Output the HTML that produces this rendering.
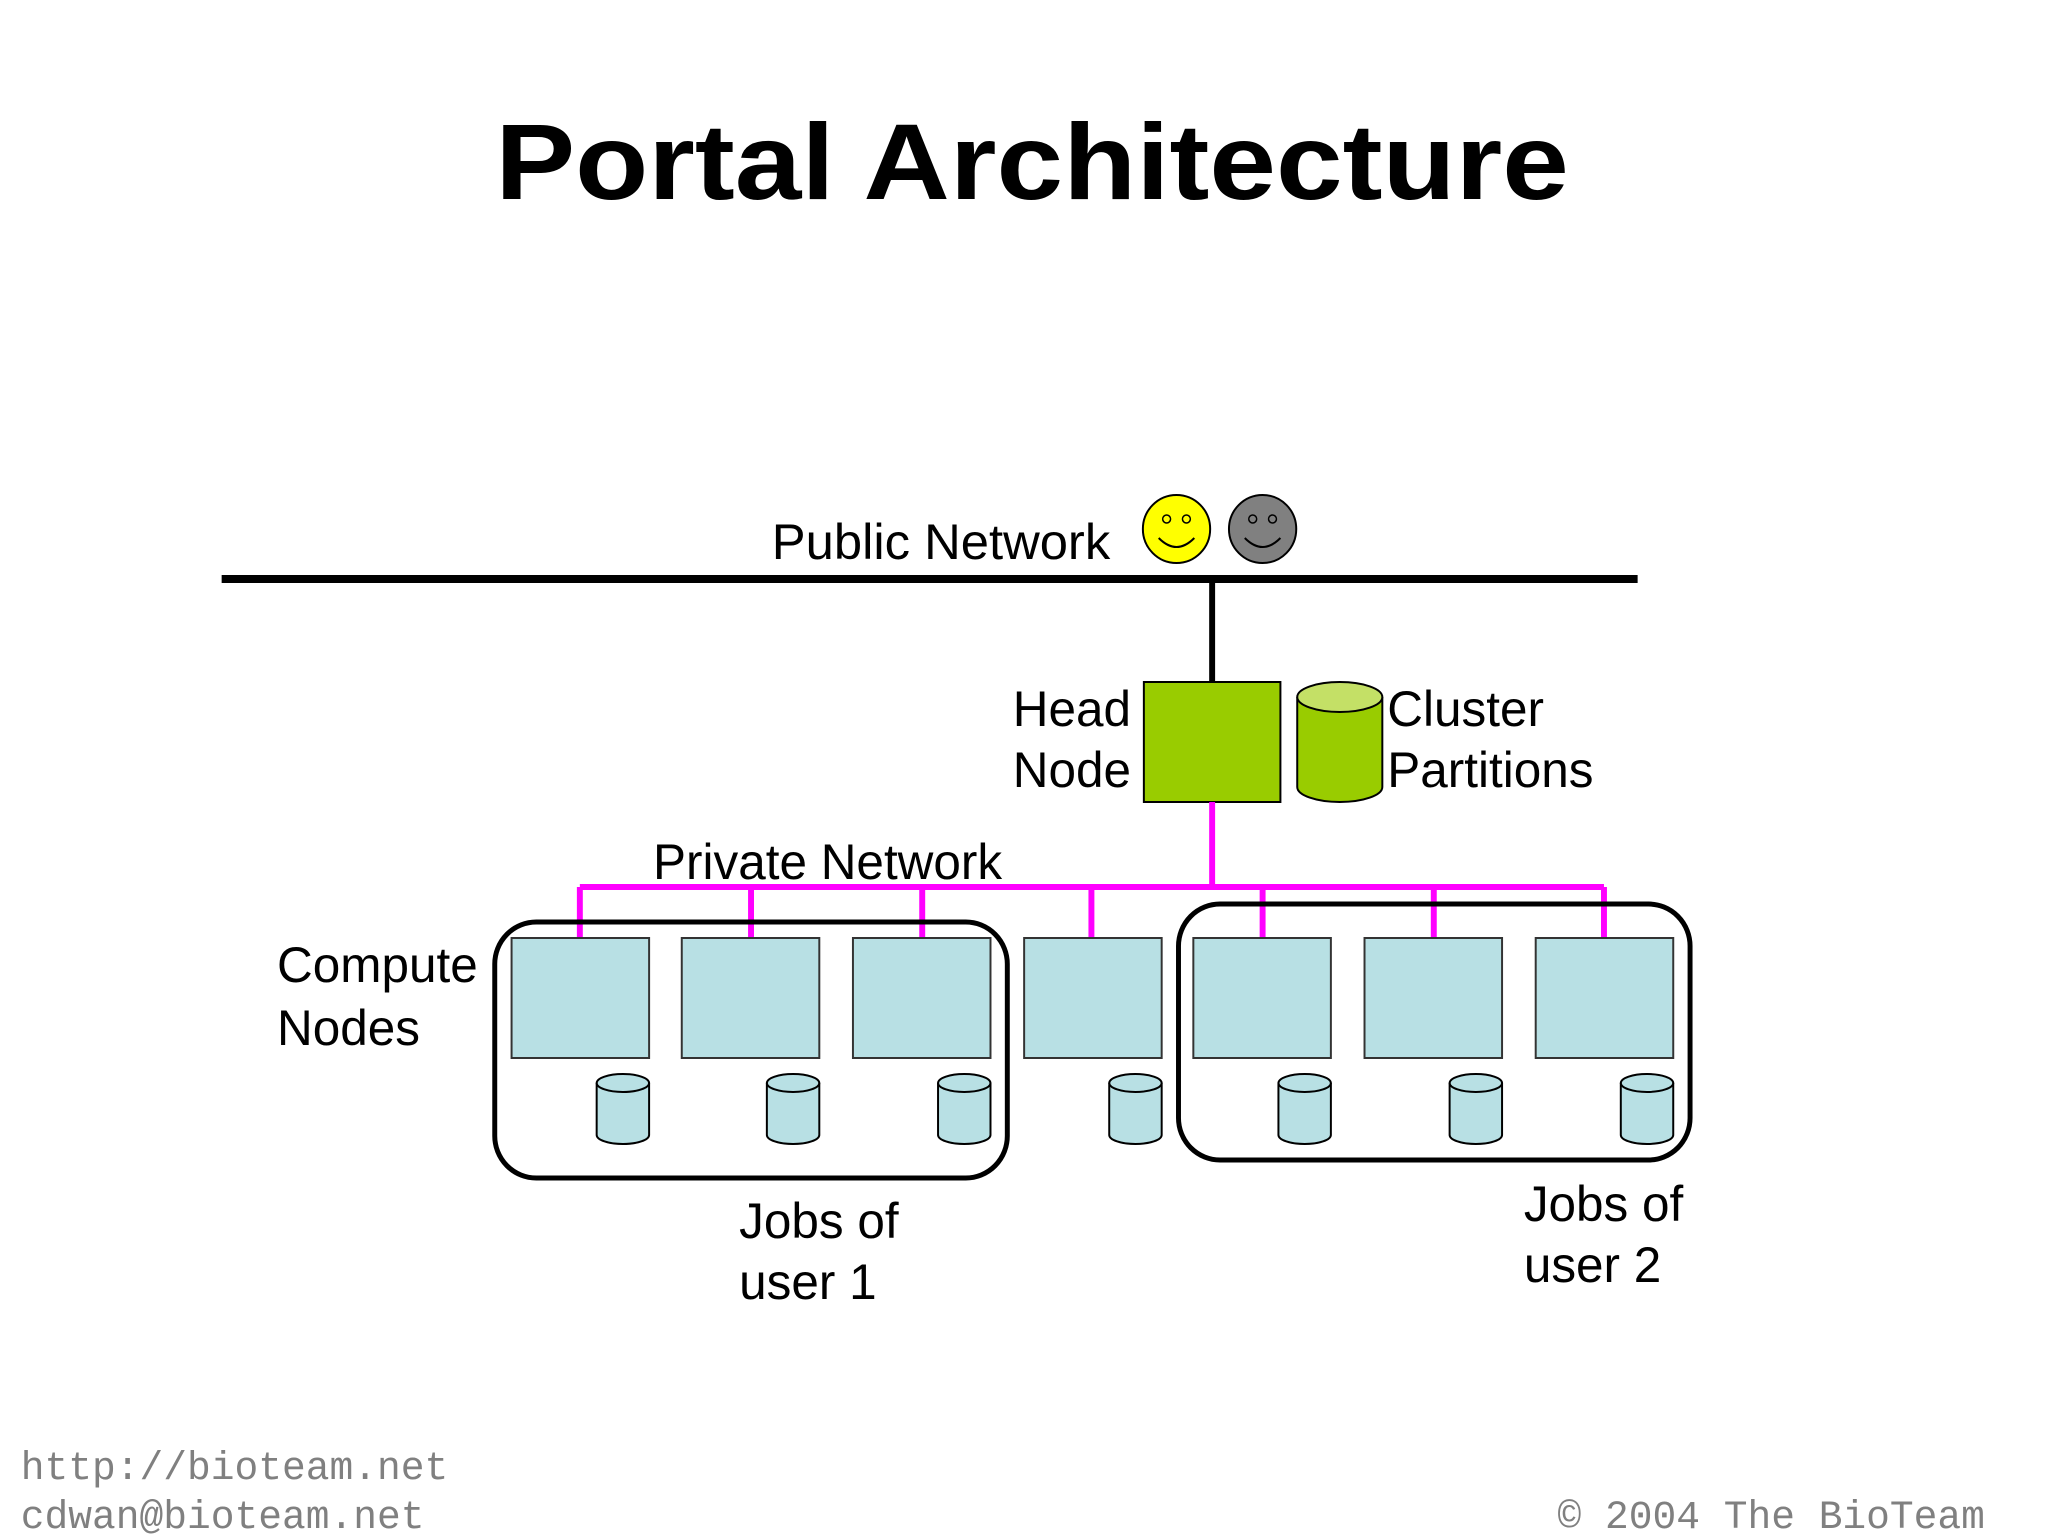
<!DOCTYPE html>
<html><head><meta charset="utf-8"><style>
html,body{margin:0;padding:0;background:#fff;}
svg{display:block;}
</style></head><body>
<svg width="2048" height="1536" viewBox="0 0 2048 1536" xmlns="http://www.w3.org/2000/svg">
<g transform="scale(0.9895,1)">
<text x="1043" y="199" text-anchor="middle" font-family="Liberation Sans, sans-serif" font-weight="bold" font-size="108" textLength="1085" lengthAdjust="spacingAndGlyphs">Portal Architecture</text>

<text x="780" y="559" font-family="Liberation Sans, sans-serif" font-size="50" textLength="342" lengthAdjust="spacingAndGlyphs">Public Network</text>
<circle cx="1189" cy="529" r="34" fill="#ffff00" stroke="#000" stroke-width="2"/>
<circle cx="1179" cy="519" r="4" fill="none" stroke="#000" stroke-width="1.5"/>
<circle cx="1199" cy="519" r="4" fill="none" stroke="#000" stroke-width="1.5"/>
<path d="M1171 538 Q1189 556 1207 538" fill="none" stroke="#000" stroke-width="2"/>
<circle cx="1276" cy="529" r="34" fill="#808080" stroke="#000" stroke-width="2"/>
<circle cx="1266" cy="519" r="4" fill="none" stroke="#000" stroke-width="1.5"/>
<circle cx="1286" cy="519" r="4" fill="none" stroke="#000" stroke-width="1.5"/>
<path d="M1258 538 Q1276 556 1294 538" fill="none" stroke="#000" stroke-width="2"/>

<line x1="224" y1="579" x2="1655" y2="579" stroke="#000" stroke-width="8"/>
<line x1="1225" y1="579" x2="1225" y2="682" stroke="#000" stroke-width="6"/>

<rect x="1156" y="682" width="138" height="120" fill="#99cc00" stroke="#000" stroke-width="2"/>
<g font-family="Liberation Sans, sans-serif" font-size="50">
<text x="1143" y="726" text-anchor="end">Head</text>
<text x="1143" y="787" text-anchor="end">Node</text>
<text x="1402" y="726">Cluster</text>
<text x="1402" y="787">Partitions</text>
</g>
<path d="M1311 697 L1311 787 A43 15 0 0 0 1397 787 L1397 697" fill="#99cc00" stroke="#000" stroke-width="2"/>
<ellipse cx="1354" cy="697" rx="43" ry="15" fill="#c4e066" stroke="#000" stroke-width="2"/>

<g stroke="#ff00ff" stroke-width="6" fill="none">
<line x1="1225" y1="802" x2="1225" y2="887"/>
<line x1="586" y1="887" x2="1621" y2="887"/>
<line x1="586" y1="887" x2="586" y2="938"/>
<line x1="759" y1="887" x2="759" y2="938"/>
<line x1="932" y1="887" x2="932" y2="938"/>
<line x1="1103" y1="887" x2="1103" y2="938"/>
<line x1="1276" y1="887" x2="1276" y2="938"/>
<line x1="1449" y1="887" x2="1449" y2="938"/>
<line x1="1621" y1="887" x2="1621" y2="938"/>
</g>
<text x="660" y="879" font-family="Liberation Sans, sans-serif" font-size="50">Private Network</text>

<rect x="500" y="922" width="518" height="256" rx="42" fill="none" stroke="#000" stroke-width="5"/>
<rect x="1191" y="904" width="517" height="256" rx="42" fill="none" stroke="#000" stroke-width="5"/>

<g fill="#b8e0e4" stroke="#333" stroke-width="2">
<rect x="517" y="938" width="139" height="120"/>
<rect x="689" y="938" width="139" height="120"/>
<rect x="862" y="938" width="139" height="120"/>
<rect x="1035" y="938" width="139" height="120"/>
<rect x="1206" y="938" width="139" height="120"/>
<rect x="1379" y="938" width="139" height="120"/>
<rect x="1552" y="938" width="139" height="120"/>
</g>
<g fill="#b8e0e4" stroke="#000" stroke-width="2">
<path d="M603 1083 L603 1135 A26.5 9 0 0 0 656 1135 L656 1083"/><ellipse cx="629.5" cy="1083" rx="26.5" ry="9"/>
<path d="M775 1083 L775 1135 A26.5 9 0 0 0 828 1135 L828 1083"/><ellipse cx="801.5" cy="1083" rx="26.5" ry="9"/>
<path d="M948 1083 L948 1135 A26.5 9 0 0 0 1001 1135 L1001 1083"/><ellipse cx="974.5" cy="1083" rx="26.5" ry="9"/>
<path d="M1121 1083 L1121 1135 A26.5 9 0 0 0 1174 1135 L1174 1083"/><ellipse cx="1147.5" cy="1083" rx="26.5" ry="9"/>
<path d="M1292 1083 L1292 1135 A26.5 9 0 0 0 1345 1135 L1345 1083"/><ellipse cx="1318.5" cy="1083" rx="26.5" ry="9"/>
<path d="M1465 1083 L1465 1135 A26.5 9 0 0 0 1518 1135 L1518 1083"/><ellipse cx="1491.5" cy="1083" rx="26.5" ry="9"/>
<path d="M1638 1083 L1638 1135 A26.5 9 0 0 0 1691 1135 L1691 1083"/><ellipse cx="1664.5" cy="1083" rx="26.5" ry="9"/>
</g>

<g font-family="Liberation Sans, sans-serif" font-size="50">
<text x="280" y="982">Compute</text>
<text x="280" y="1045">Nodes</text>
<text x="747" y="1238">Jobs of</text>
<text x="747" y="1299">user 1</text>
<text x="1540" y="1221">Jobs of</text>
<text x="1540" y="1282">user 2</text>
</g>

<g font-family="Liberation Mono, monospace" font-size="40" fill="#808080">
<text x="21" y="1479">http://bioteam.net</text>
<text x="21" y="1528">cdwan@bioteam.net</text>
<text x="2006" y="1528" text-anchor="end">© 2004 The BioTeam</text>
</g>
</g>
</svg>
</body></html>
